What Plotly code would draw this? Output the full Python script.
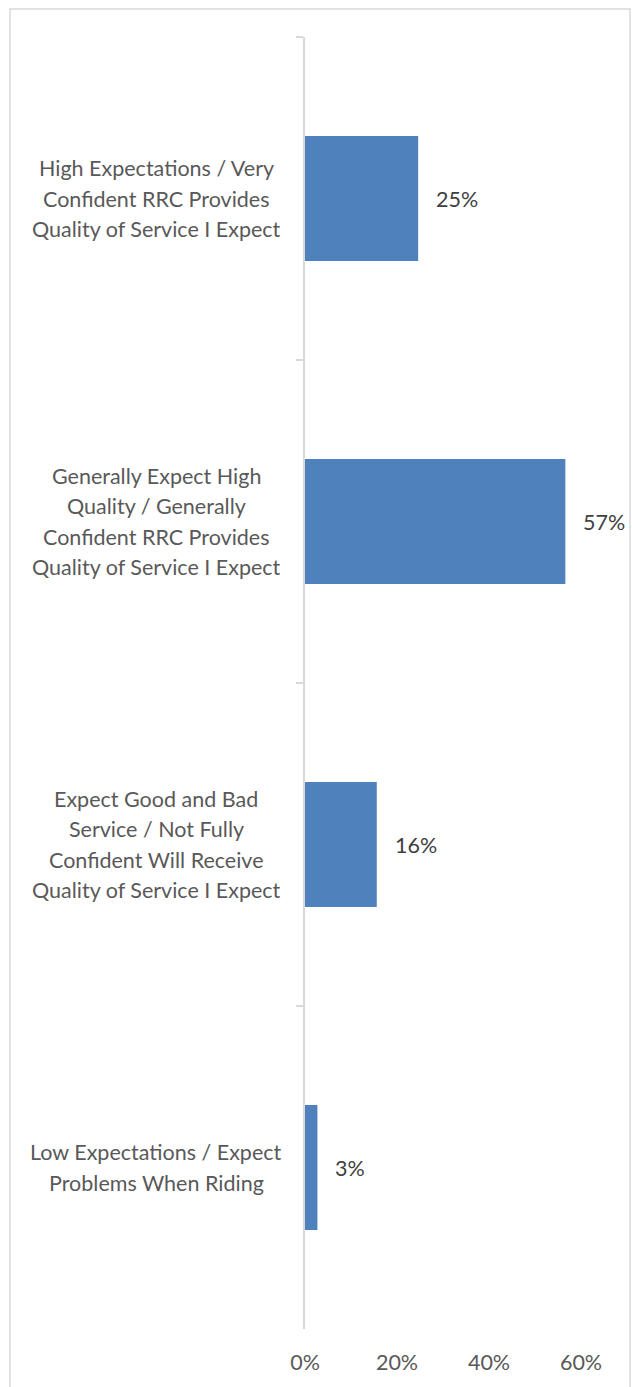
import plotly.graph_objects as go

categories = [
    "High Expectations / Very<br>Confident RRC Provides<br>Quality of Service I Expect",
    "Generally Expect High<br>Quality / Generally<br>Confident RRC Provides<br>Quality of Service I Expect",
    "Expect Good and Bad<br>Service / Not Fully<br>Confident Will Receive<br>Quality of Service I Expect",
    "Low Expectations / Expect<br>Problems When Riding",
]
values = [0.246, 0.566, 0.156, 0.027]
x_ticks = [0, 0.2, 0.4, 0.6]
x_tick_labels = ["0%", "20%", "40%", "60%"]

FONT = "Lato"
FS = 21.5
BAR_COLOR = "#4f81bd"
GRID = "#d9d9d9"

fig = go.Figure()
fig.add_trace(go.Bar(
    x=values,
    y=categories,
    orientation="h",
    marker=dict(color=BAR_COLOR, line=dict(width=0)),
    hoverinfo="skip",
))

annotations = []
# value labels
for cat, v in zip(categories, values):
    annotations.append(dict(
        x=v, y=cat, xref="x", yref="y",
        text=f"{round(v * 100)}%",
        showarrow=False, xanchor="left", yanchor="middle", xshift=16,
        font=dict(family=FONT, size=FS, color="#404040"),
    ))
# category labels (centered lines)
LINE_H = 30.5
for cat in categories:
    lines = cat.split("<br>")
    n = len(lines)
    for i, ln in enumerate(lines):
        annotations.append(dict(
            x=0, y=cat, xref="paper", yref="y",
            text=ln, showarrow=False,
            xanchor="center", yanchor="middle",
            xshift=-149, yshift=-(i - (n - 1) / 2) * LINE_H,
            font=dict(family=FONT, size=FS, color="#595959"),
        ))

fig.update_layout(
    width=632, height=1387,
    margin=dict(l=305, r=51, t=37, b=58, pad=0),
    paper_bgcolor="white", plot_bgcolor="white",
    showlegend=False,
    bargap=0.613,
    annotations=annotations,
    font=dict(family=FONT),
    xaxis=dict(
        range=[0, 0.6], tickvals=x_ticks, ticktext=x_tick_labels,
        showgrid=False, zeroline=False, showline=False, ticks="",
        tickfont=dict(family=FONT, size=FS, color="#595959"),
        ticklabelstandoff=18,
        fixedrange=True,
    ),
    yaxis=dict(
        type="category", categoryorder="array", categoryarray=categories,
        autorange="reversed",
        showgrid=False, zeroline=False,
        showline=True, linecolor=GRID, linewidth=2,
        ticks="outside", tickson="boundaries", ticklen=7, tickwidth=2, tickcolor=GRID,
        showticklabels=False,
        fixedrange=True,
    ),
    shapes=[dict(
        type="rect", xref="paper", yref="paper",
        x0=(10 - 305) / 276, x1=(630 - 305) / 276,
        y0=-0.2, y1=1 + (37 - 9) / 1292,
        line=dict(color=GRID, width=1.5), fillcolor="rgba(0,0,0,0)", layer="below",
    )],
)

fig.write_html(
    "out.html",
    config={"displayModeBar": False},
    post_script="document.body.style.margin='0';document.body.style.overflow='hidden';",
)
